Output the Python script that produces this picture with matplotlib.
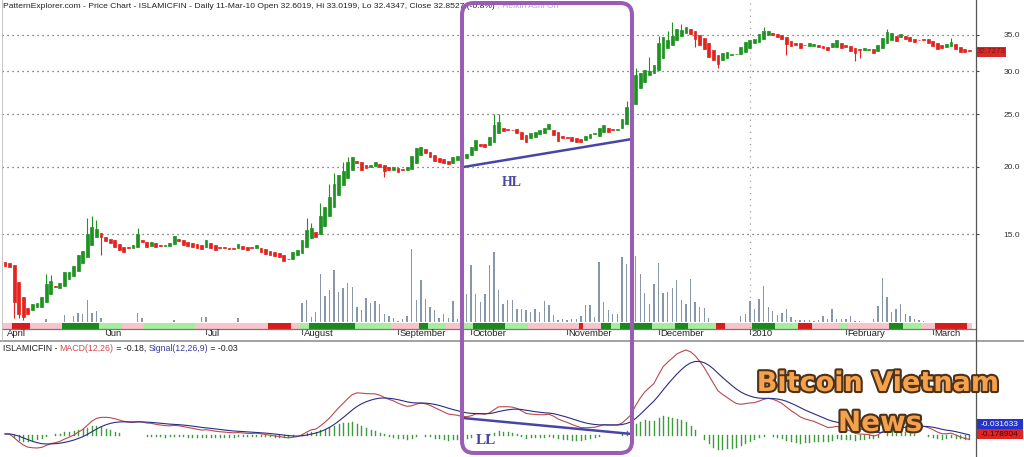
import numpy as np
import pandas as pd
import matplotlib
matplotlib.use('Agg')
import matplotlib.pyplot as plt
from matplotlib.patches import FancyBboxPatch, Rectangle
from matplotlib.lines import Line2D
from matplotlib.transforms import blended_transform_factory, IdentityTransform
from matplotlib.ticker import NullLocator
import matplotlib.patheffects as pe

plt.rcParams['font.family'] = ['Liberation Sans', 'DejaVu Sans']
plt.rcParams['lines.scale_dashes'] = False

# ---------------- data (Heikin-Ashi candles, ISLAMICFIN daily) ----------------
opens = [
    13.32, 13.27, 13.15, 12.25, 11.50, 10.97, 10.86, 11.01, 11.01, 11.23,
    11.63, 12.03, 11.94, 12.04, 12.39, 12.55, 12.82, 13.28, 13.62, 14.32,
    14.84, 15.06, 14.84, 14.71, 14.63, 14.38, 14.22, 14.17, 14.14, 14.22,
    14.63, 14.52, 14.26, 14.44, 14.32, 14.29, 14.26, 14.36, 14.69, 14.63,
    14.48, 14.46, 14.38, 14.32, 14.22, 14.42, 14.32, 14.22, 14.19, 14.14,
    14.16, 14.12, 14.26, 14.22, 14.17, 14.12, 14.16, 14.08, 13.98, 13.88,
    13.86, 13.72, 13.52, 13.50, 13.72, 13.82, 14.22, 14.74, 15.13, 14.99,
    15.54, 16.22, 16.86, 17.72, 18.49, 19.02, 19.71, 20.47, 20.36, 20.13,
    19.94, 20.07, 20.22, 20.16, 19.99, 19.71, 19.85, 19.79, 19.71, 19.77,
    20.33, 21.00, 21.52, 21.30, 21.00, 20.76, 20.62, 20.50, 20.33, 20.56,
    20.82, 20.74, 21.00, 21.46, 21.97, 22.01, 21.92, 22.23, 23.04, 23.56,
    23.46, 23.39, 23.43, 23.19, 22.87, 22.55, 22.71, 22.97, 23.04, 23.43,
    23.36, 23.19, 22.77, 22.68, 22.65, 22.55, 22.46, 22.39, 22.55, 23.00,
    22.77, 23.19, 23.53, 23.46, 23.39, 23.53, 23.93, 25.76, 26.09, 27.90,
    28.69, 29.52, 29.73, 30.16, 31.70, 33.08, 33.54, 34.26, 34.85, 35.35,
    35.86, 35.65, 35.00, 34.51, 33.78, 32.84, 32.14, 31.47, 31.80, 32.17,
    32.24, 32.28, 32.60, 33.15, 33.78, 33.92, 34.36, 35.00, 35.35, 35.15,
    35.00, 34.66, 34.11, 33.86, 33.78, 33.58, 33.39, 33.39, 33.54, 33.44,
    33.30, 33.21, 33.30, 33.78, 33.54, 33.39, 33.08, 32.98, 32.84, 32.88,
    32.94, 32.74, 33.08, 33.78, 34.26, 34.85, 34.75, 34.85, 34.66, 34.41,
    34.31, 34.41, 34.36, 34.16, 33.78, 33.54, 33.30, 33.39, 33.68, 33.30,
    32.94, 32.80,
]
closes = [
    13.10, 13.04, 11.25, 10.68, 10.56, 10.68, 11.14, 11.19, 11.50, 12.13,
    12.29, 11.96, 12.18, 12.78, 12.78, 13.10, 13.72, 13.96, 15.00, 15.48,
    15.33, 14.81, 14.59, 14.44, 14.20, 14.02, 13.92, 14.11, 14.32, 15.00,
    14.52, 14.20, 14.52, 14.22, 14.29, 14.35, 14.46, 14.88, 14.56, 14.32,
    14.26, 14.18, 14.12, 14.06, 14.63, 14.16, 14.02, 14.12, 14.14, 14.10,
    14.06, 14.38, 14.06, 14.02, 14.11, 14.32, 13.92, 13.78, 13.72, 13.66,
    13.58, 13.40, 13.47, 13.88, 14.02, 14.63, 15.26, 15.37, 14.84, 16.20,
    16.86, 17.55, 18.57, 19.29, 19.63, 20.41, 20.80, 20.28, 19.71, 19.85,
    20.13, 20.41, 19.99, 19.65, 19.71, 19.94, 19.57, 19.73, 19.94, 20.91,
    21.67, 21.70, 21.15, 20.80, 20.50, 20.41, 20.28, 20.19, 20.85, 20.91,
    20.65, 21.09, 21.76, 22.39, 21.87, 21.76, 22.65, 23.86, 24.20, 23.29,
    23.39, 23.33, 23.04, 22.46, 22.23, 23.04, 23.19, 23.36, 23.53, 23.96,
    22.87, 22.33, 22.55, 22.61, 22.30, 22.23, 22.23, 22.77, 22.97, 23.07,
    23.53, 23.86, 23.19, 23.39, 23.46, 24.45, 25.73, 26.54, 29.52, 29.73,
    30.16, 30.03, 30.80, 33.78, 34.75, 34.26, 34.85, 35.86, 35.75, 36.26,
    35.15, 34.36, 33.54, 32.94, 31.91, 31.47, 30.93, 32.38, 32.49, 32.28,
    32.32, 33.21, 34.01, 34.26, 34.36, 35.15, 35.65, 35.65, 35.00, 34.66,
    34.36, 33.64, 33.39, 33.54, 33.08, 33.50, 33.78, 33.68, 33.21, 33.15,
    32.84, 33.86, 34.26, 33.08, 33.21, 32.74, 32.40, 32.88, 33.08, 32.98,
    32.40, 33.54, 34.51, 35.49, 35.25, 34.16, 35.15, 34.36, 34.16, 34.02,
    34.22, 34.31, 33.78, 33.39, 32.94, 33.08, 33.68, 34.01, 32.94, 32.60,
    32.60, 32.70,
]
# notable shadows (candle index -> price)
wick_high = {9: 12.65, 10: 12.60, 18: 16.06, 19: 16.20, 20: 15.93, 29: 15.40,
             66: 16.06, 67: 15.73, 69: 17.12, 71: 18.57, 72: 19.46, 74: 20.41,
             75: 20.80, 107: 25.00, 108: 25.06, 136: 26.46, 138: 30.42,
             141: 31.91, 143: 34.85, 145: 35.65, 146: 36.93, 148: 36.70,
             166: 36.17, 193: 35.86, 207: 34.51}
wick_low = {2: 10.50, 3: 10.50, 4: 10.41, 21: 13.72, 83: 19.10, 151: 33.30,
            156: 30.42, 171: 32.18, 186: 31.40, 187: 31.80}
# relative volume
volume = [
    0, 0, 0, 0, 0, 0, 0, 0, 0, 3,
    0, 0, 0, 7, 0, 6, 9, 8, 22, 9,
    11, 4, 0, 0, 0, 0, 0, 0, 0, 9,
    4, 0, 0, 0, 0, 0, 0, 2, 0, 0,
    0, 0, 0, 5, 5, 0, 0, 0, 0, 0,
    0, 4, 0, 0, 0, 0, 0, 0, 0, 0,
    0, 0, 0, 0, 0, 19, 22, 5, 10, 48,
    26, 32, 52, 30, 34, 39, 35, 15, 12, 24,
    19, 21, 18, 8, 6, 4, 1, 3, 6, 73,
    22, 42, 23, 15, 12, 4, 8, 4, 21, 3,
    10, 28, 57, 28, 20, 28, 57, 70, 32, 18,
    22, 22, 13, 13, 12, 10, 13, 10, 21, 17,
    7, 2, 3, 2, 3, 3, 6, 17, 17, 5,
    60, 20, 12, 8, 8, 65, 58, 40, 66, 48,
    29, 18, 38, 59, 29, 30, 34, 42, 22, 18,
    43, 20, 15, 14, 4, 0, 0, 0, 0, 0,
    0, 6, 8, 21, 13, 23, 36, 15, 11, 7,
    9, 13, 5, 2, 2, 2, 2, 1, 2, 6,
    3, 13, 3, 3, 3, 6, 1, 1, 0, 0,
    3, 16, 44, 25, 10, 13, 18, 8, 6, 3,
    2, 1, 0, 0, 0, 0, 0, 0, 0, 0,
    0, 0,
]
# trend strip: (state, number of candles)
strip_runs = [('PK', 2), ('DR', 4), ('PK', 7), ('DG', 8), ('LG', 5), ('PK', 5),
              ('LG', 11), ('PK', 16), ('DR', 5), ('PK', 2), ('LG', 2), ('DG', 10),
              ('LG', 8), ('PK', 6), ('DG', 2), ('LG', 4), ('PK', 4), ('LG', 2),
              ('DG', 7), ('LG', 5), ('PK', 11), ('DR', 1), ('PK', 4), ('DG', 2),
              ('LG', 2), ('DG', 7), ('LG', 5), ('DG', 3), ('LG', 6), ('DR', 2),
              ('PK', 6), ('DG', 5), ('LG', 5), ('DR', 3), ('PK', 6), ('LG', 2),
              ('PK', 9), ('DG', 3), ('LG', 4), ('PK', 3), ('DR', 7), ('PK', 1)]
month_labels = ['April', 'Jun', 'Jul', 'August', 'September', 'October',
                'November', 'December', '2010', 'February', 'March']
month_start = [0, 22, 44, 65, 86, 102, 123, 143, 163, 184, 203]
price_ticks = [15.0, 20.0, 25.0, 30.0, 35.0]

title_text = ('PatternExplorer.com - Price Chart - ISLAMICFIN - Daily 11-Mar-10 '
              'Open 32.6019, Hi 33.0199, Lo 32.4347, Close 32.8527 (-0.8%)')
title_extra = ' , Heikin Ashi On'
last_price_label = '32.7273'
macd_label = '-0.178904'
signal_label = '-0.031633'

# ---------------- layout ----------------
W, H = 1024, 457
fig = plt.figure(figsize=(W / 100, H / 100), dpi=100)
fig.patch.set_facecolor('white')


def fx(px):
    return px / W


def fy(py):
    return 1 - py / H


X0, X1 = 2, 976
FIRST, STEP = 5.0, 4.57
XLIM = ((X0 - FIRST) / STEP, (X1 - FIRST) / STEP)

n = len(closes)
idx = np.arange(n)
o = np.array(opens)
c = np.array(closes)

# volume overlay
axv = fig.add_axes([fx(X0), fy(322), fx(X1 - X0), 100 / H])
axv.set_xlim(*XLIM)
axv.set_ylim(0, 100)
axv.bar(idx, volume, width=0.3, color='#8797a8', linewidth=0)
axv.axis('off')

# trend strip
axs = fig.add_axes([fx(X0), fy(328.5), fx(X1 - X0), 6 / H])
axs.set_xlim(*XLIM)
axs.set_ylim(0, 1)
strip_colors = {'DG': '#1b8a1e', 'LG': '#a6eda0', 'PK': '#f7c4cb', 'DR': '#d81c1c'}
pos = -0.5
for state, cnt in strip_runs:
    axs.broken_barh([(pos, cnt)], (0, 1), facecolors=strip_colors[state])
    pos += cnt
axs.axis('off')

# price axes
ax = fig.add_axes([fx(X0), fy(328), fx(X1 - X0), 328 / H])
ax.patch.set_alpha(0)
ax.set_yscale('log')
ax.set_ylim(10.06, 40.62)
ax.set_xlim(*XLIM)
for s in ax.spines.values():
    s.set_visible(False)
ax.set_xticks([])
ax.yaxis.tick_right()
ax.set_yticks(price_ticks)
ax.set_yticklabels(['%.1f' % p for p in price_ticks])
ax.yaxis.set_minor_locator(NullLocator())
ax.tick_params(axis='y', length=2, width=0.8, pad=18, labelsize=6, colors='#444',
               labelcolor='#333')

for p in price_ticks:
    ax.axhline(p, color='#444', lw=0.9, ls=(0, (0.8, 2.8)), zorder=0)
ax.axvline(month_start[8], color='#999', lw=0.9, ls=(0, (0.8, 3.6)), zorder=0)

up = c >= o
col = np.where(up, '#1f9322', '#e2231e')
body_lo = np.minimum(o, c)
body_hi = np.maximum(o, c)
hi = body_hi.copy()
lo = body_lo.copy()
for k, v in wick_high.items():
    hi[k] = max(hi[k], v)
for k, v in wick_low.items():
    lo[k] = min(lo[k], v)
ax.vlines(idx, lo, hi, colors=col, lw=0.8, zorder=2)
ax.bar(idx, body_hi - body_lo, bottom=body_lo, width=0.62, color=col,
       edgecolor=col, linewidth=0.5, zorder=3)

# HL trend line (annotation)
ax.plot([100.2, 137.2], [19.95, 22.48], color='#4646a6', lw=1.8, zorder=4,
        solid_capstyle='butt')

# month labels
trans = blended_transform_factory(ax.transData, fig.transFigure)
for lab, m in zip(month_labels, month_start):
    if m > 0:
        fig.add_artist(Line2D([m, m], [fy(329), fy(333.5)], transform=trans,
                              color='#555', lw=0.8))
        fig.text(m + 0.35, fy(334), lab, transform=trans, fontsize=6.8,
                 color='#222', va='center', ha='left')
    else:
        fig.text(m + 0.4, fy(334), lab, transform=trans, fontsize=6.8,
                 color='#222', va='center', ha='left')

# ---------------- MACD panel ----------------
cs = pd.Series(closes)
macd = cs.ewm(span=12, adjust=False).mean() - cs.ewm(span=26, adjust=False).mean()
signal = macd.ewm(span=9, adjust=False).mean()
hist = macd - signal

axm = fig.add_axes([fx(X0), 0, fx(X1 - X0), (H - 342) / H])
axh = axm.twinx()
axm.set_zorder(3)
axh.set_zorder(2)
axm.patch.set_visible(False)
axh.patch.set_visible(False)
axm.set_xlim(*XLIM)
axh.set_xlim(*XLIM)
vmax = max(macd.max(), signal.max())
vmin = min(macd.min(), signal.min())
s_ = (vmax - vmin) / (448 - 350)
axm.set_ylim(vmin - 9 * s_, vmax + 8 * s_)
a_ = np.abs(hist).max() / 19
axh.set_ylim(-22 * a_, 93 * a_)
axh.vlines(idx, 0, hist.values, colors='#3d9c3a', lw=1.0, capstyle='projecting')
axm.plot(idx, macd.values, color='#b84a4e', lw=0.8)
axm.plot(idx, signal.values, color='#2c2c84', lw=0.8)
axm.axis('off')
axh.axis('off')

# LL trend line (annotation)
transm = blended_transform_factory(axm.transData, axm.transAxes)
axm.plot([100.2, 137.2], [(H - 418) / (H - 342), (H - 434) / (H - 342)],
         transform=transm, color='#4646a6', lw=1.8, solid_capstyle='butt')

# ---------------- frame lines ----------------
fig.add_artist(Line2D([fx(X0), fx(X1)], [fy(328.6), fy(328.6)], color='#777', lw=0.9))
fig.add_artist(Line2D([0, 1], [fy(341), fy(341)], color='#9a9a9a', lw=1.3))
fig.add_artist(Line2D([fx(976), fx(976)], [0, 1], color='#555', lw=0.9))
fig.add_artist(Line2D([fx(1.5), fx(1.5)], [fy(341), 1], color='#bbb', lw=0.6))

# ---------------- texts ----------------
def chain_text(x, y, parts, **kw):
    t = fig.text(x, y, parts[0][0], color=parts[0][1], va='bottom', **kw)
    for s, colr in parts[1:]:
        t = fig.text(0, 0, s, color=colr, va='bottom', **kw)
        t.set_position((0, 0))
        t.set_transform(fig.transFigure)
        prev = t
    return t


def seq_text(x, y, parts, **kw):
    t = fig.text(x, y, parts[0][0], color=parts[0][1], va='bottom', **kw)
    for s, colr in parts[1:]:
        t = plt.annotate(s, xy=(1, 0), xycoords=t, xytext=(0, 0),
                         textcoords='offset points', color=colr, va='bottom', **kw)
    return t


seq_text(fx(3), fy(9.5), [(title_text, '#222'), (title_extra, '#a7a7d6')],
         fontsize=6.1)
seq_text(fx(3), fy(353), [('ISLAMICFIN - ', '#222'), ('MACD(12,26)', '#d0484c'),
                           (' = -0.18, ', '#222'), ('Signal(12,26,9)', '#3a3a9c'),
                           (' = -0.03', '#222')], fontsize=6.3)

# price label box
fig.add_artist(Rectangle((fx(976.5), fy(56.5)), fx(29), 10 / H, facecolor='#d62a2a',
                         edgecolor='none'))
fig.text(fx(991), fy(51.5), last_price_label, fontsize=5.8, color='#8a1010',
         ha='center', va='center')

# MACD value boxes
fig.add_artist(Rectangle((fx(976.5), fy(429)), fx(46.5), 10 / H, facecolor='#2434c8',
                         edgecolor='none'))
fig.text(fx(999.5), fy(424), signal_label, fontsize=6, color='white',
         ha='center', va='center')
fig.add_artist(Rectangle((fx(976.5), fy(439)), fx(46.5), 10 / H, facecolor='#e02424',
                         edgecolor='none'))
fig.text(fx(999.5), fy(434), macd_label, fontsize=6, color='#3a0a0a',
         ha='center', va='center')

# HL / LL labels
fig.text(fx(512), fy(183), 'HL', fontsize=10, fontweight='bold', color='#4a4aa6',
         family=['Liberation Serif', 'DejaVu Serif'], ha='center', va='center')
fig.text(fx(486), fy(440), 'LL', fontsize=11, fontweight='bold', color='#4a4aa6',
         family=['Liberation Serif', 'DejaVu Serif'], ha='center', va='center')

# purple highlight box
box = FancyBboxPatch((462, H - 453), 632 - 462, 450, boxstyle='round,pad=0,rounding_size=12',
                     transform=IdentityTransform(), fill=False, edgecolor='#9b5cb5',
                     linewidth=2.9, zorder=10)
fig.add_artist(box)

# watermark
wm_fx = [pe.withStroke(linewidth=3, foreground='#4b3219')]
fig.text(fx(878), fy(384), 'Bitcoin Vietnam', fontsize=19.5, fontweight='bold',
         family=['DejaVu Sans'], color='#f6a14e', ha='center', va='center',
         path_effects=wm_fx, zorder=11)
fig.text(fx(880), fy(423), 'News', fontsize=20, fontweight='bold',
         family=['DejaVu Sans'], color='#f6a14e', ha='center', va='center',
         path_effects=wm_fx, zorder=11)

fig.savefig('out.png', dpi=100)
